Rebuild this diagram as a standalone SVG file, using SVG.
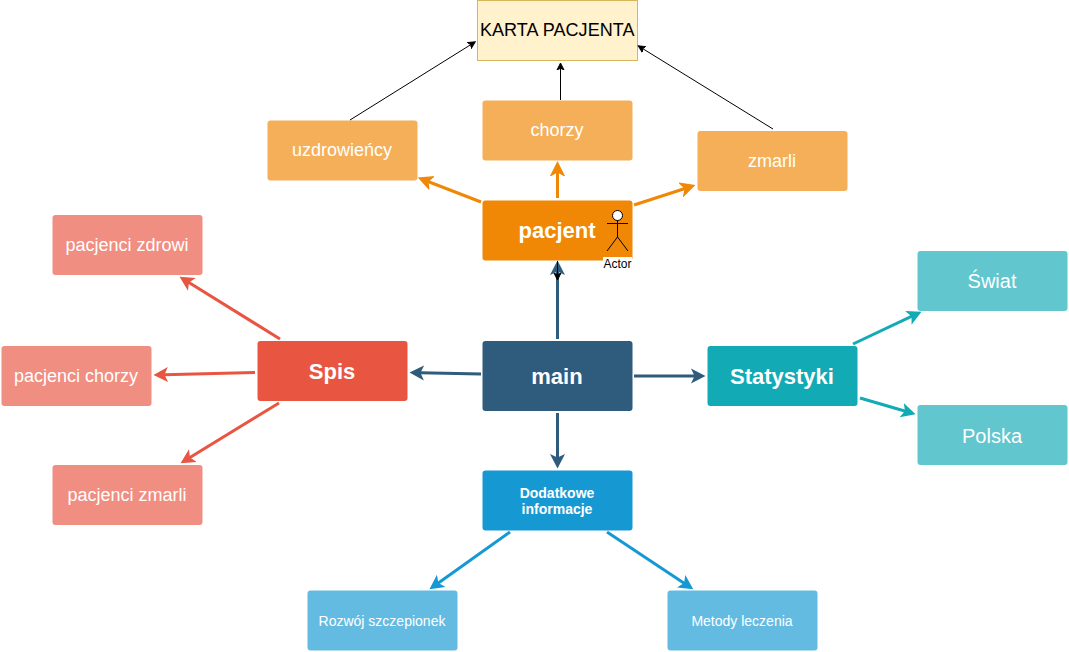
<svg xmlns="http://www.w3.org/2000/svg" width="1069" height="652" viewBox="0 0 1069 652">
<style>
text{font-family:"Liberation Sans",Arial,sans-serif;text-anchor:middle;fill:#fff}
.n{font-size:18px}.b{font-weight:bold;font-size:22px}.s{font-size:14px}
rect.c{stroke:none}
.l{fill:none;stroke-width:3}
.k{fill:none;stroke:#000;stroke-width:1}
.or{stroke:#F08705}.dk{stroke:#2F5B7C}.re{stroke:#E85642}.te{stroke:#12AAB5}.bl{stroke:#1699D3}
</style>
<defs>
<marker id="aor" markerUnits="userSpaceOnUse" markerWidth="17" markerHeight="17" viewBox="0 -8.500 17 17" refX="4" refY="0" orient="auto"><path d="M-1-8 15 0-1 8 3.500 0z" fill="#F08705"/></marker>
<marker id="adk" markerUnits="userSpaceOnUse" markerWidth="17" markerHeight="17" viewBox="0 -8.500 17 17" refX="4" refY="0" orient="auto"><path d="M0-7.500 14.500 0 0 7.500 3.500 0z" fill="#2F5B7C"/></marker>
<marker id="are" markerUnits="userSpaceOnUse" markerWidth="17" markerHeight="17" viewBox="0 -8.500 17 17" refX="4" refY="0" orient="auto"><path d="M0-7.500 14.500 0 0 7.500 3.500 0z" fill="#E85642"/></marker>
<marker id="ate" markerUnits="userSpaceOnUse" markerWidth="17" markerHeight="17" viewBox="0 -8.500 17 17" refX="4" refY="0" orient="auto"><path d="M0-7.500 14.500 0 0 7.500 3.500 0z" fill="#12AAB5"/></marker>
<marker id="abl" markerUnits="userSpaceOnUse" markerWidth="17" markerHeight="17" viewBox="0 -8.500 17 17" refX="4" refY="0" orient="auto"><path d="M0-7.500 14.500 0 0 7.500 3.500 0z" fill="#1699D3"/></marker>
<marker id="ak" markerUnits="userSpaceOnUse" markerWidth="10" markerHeight="10" viewBox="0 -5 10 10" refX="2" refY="0" orient="auto"><path d="M0-3.500 7 0 0 3.500 1.800 0z" fill="#000" stroke="#000" stroke-width="1"/></marker>
</defs>

<g id="node-karta"><rect x="477.500" y="0.500" width="160" height="60" fill="#FFF2CC" stroke="#D6B656"/><text x="557.300" y="36" style="fill:#000;letter-spacing:.07px" class="n">KARTA PACJENTA</text></g>
<g id="node-uzdrowiency"><rect class="c" x="267.500" y="120.500" width="150" height="60" rx="3" fill="#F5AF58"/><text x="342" y="156" class="n">uzdrowieńcy</text></g>
<g id="node-chorzy"><rect class="c" x="482.500" y="100.500" width="150" height="60" rx="3" fill="#F5AF58"/><text x="557" y="136" class="n">chorzy</text></g>
<g id="node-zmarli"><rect class="c" x="697.500" y="131" width="150" height="60" rx="3" fill="#F5AF58"/><text x="772" y="167" class="n">zmarli</text></g>
<g id="node-pacjent"><rect class="c" x="482.500" y="200.500" width="150" height="60" rx="3" fill="#F08705"/><text x="557" y="238" class="b">pacjent</text></g>
<g id="node-main"><rect class="c" x="482.500" y="341" width="150" height="70" rx="3" fill="#2F5B7C"/><text x="557" y="384" class="b">main</text></g>
<g id="node-spis"><rect class="c" x="257.500" y="341" width="150" height="60" rx="3" fill="#E85642"/><text x="332" y="379" class="b">Spis</text></g>
<g id="node-statystyki"><rect class="c" x="707.500" y="346" width="150" height="60" rx="3" fill="#12AAB5"/><text x="782" y="384" class="b">Statystyki</text></g>
<g id="node-swiat"><rect class="c" x="917.500" y="251" width="150" height="60" rx="3" fill="#61C6CE"/><text x="992" y="288" style="font-size:20px">Świat</text></g>
<g id="node-polska"><rect class="c" x="917.500" y="405" width="150" height="60" rx="3" fill="#61C6CE"/><text x="992" y="443" style="font-size:20px">Polska</text></g>
<g id="node-dodatkowe"><rect class="c" x="482.500" y="470.500" width="150" height="60" rx="3" fill="#1699D3"/><text x="557" y="498" class="s" font-weight="bold">Dodatkowe</text><text x="557" y="514" class="s" font-weight="bold">informacje</text></g>
<g id="node-rozwoj"><rect class="c" x="307.500" y="590.500" width="150" height="60" rx="3" fill="#64BBE2"/><text x="382" y="626" class="s">Rozwój szczepionek</text></g>
<g id="node-metody"><rect class="c" x="667.500" y="590.500" width="150" height="60" rx="3" fill="#64BBE2"/><text x="742" y="626" class="s">Metody leczenia</text></g>
<g id="node-zdrowi"><rect class="c" x="52.500" y="215" width="150" height="60" rx="3" fill="#F08E81"/><text x="127" y="251" class="n">pacjenci zdrowi</text></g>
<g id="node-pchorzy"><rect class="c" x="1.500" y="346" width="150" height="60" rx="3" fill="#F08E81"/><text x="76" y="382" class="n">pacjenci chorzy</text></g>
<g id="node-pzmarli"><rect class="c" x="52.500" y="465" width="150" height="60" rx="3" fill="#F08E81"/><text x="127" y="501" class="n">pacjenci zmarli</text></g>
<g id="node-actor">
<rect x="603" y="257" width="29" height="14" fill="#fff"/>
<circle cx="617.500" cy="215.500" r="5" fill="#fff" stroke="#000"/>
<path d="M617.500 220.500V237M607 223.500H628M607 251 617.500 237 628 251" fill="none" stroke="#000"/>
<text x="617.500" y="268" style="font-size:12px;fill:#000">Actor</text>
</g>

<g id="connectors">
<path class="l or" marker-end="url(#aor)" d="M481 202 428 181.500"/>
<path class="l or" marker-end="url(#aor)" d="M557.500 198V172"/>
<path class="l or" marker-end="url(#aor)" d="M634 205 685 188.500"/>
<path class="k" marker-end="url(#ak)" d="M350 120 471 44.500"/>
<path class="k" marker-end="url(#ak)" d="M560.500 100V68"/>
<path class="k" marker-end="url(#ak)" d="M773 129 642.500 48.500"/>
<path class="l dk" marker-end="url(#adk)" d="M557.500 339V271"/>
<path class="k" marker-end="url(#ak)" d="M557.500 261V275"/>
<path class="l dk" marker-end="url(#adk)" d="M481 374 420 372.800"/>
<path class="l dk" marker-end="url(#adk)" d="M634 376H695"/>
<path class="l dk" marker-end="url(#adk)" d="M557.500 413V458"/>
<path class="l re" marker-end="url(#are)" d="M280 339 188.500 282.300"/>
<path class="l re" marker-end="url(#are)" d="M255 372.500 164 374.700"/>
<path class="l re" marker-end="url(#are)" d="M279 403 189.500 457.800"/>
<path class="l te" marker-end="url(#ate)" d="M853 344 912 316.200"/>
<path class="l te" marker-end="url(#ate)" d="M860 398 905.500 411.200"/>
<path class="l bl" marker-end="url(#abl)" d="M510 532 438 583.200"/>
<path class="l bl" marker-end="url(#abl)" d="M607 532 684.500 583.400"/>
</g>
</svg>
